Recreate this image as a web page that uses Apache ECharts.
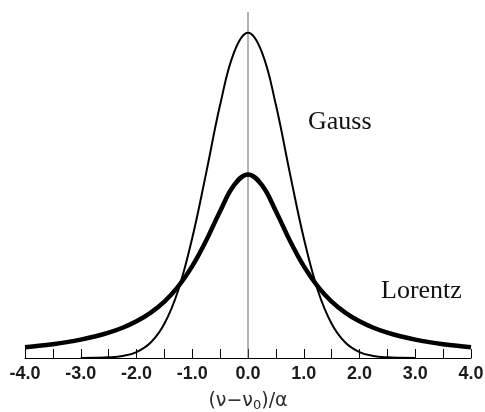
<!DOCTYPE html>
<html>
<head>
<meta charset="utf-8">
<script src="https://cdn.jsdelivr.net/npm/echarts@6/dist/echarts.min.js"></script>
<style>
html,body{margin:0;padding:0;background:#fff;}
#chart{width:485px;height:412px;}
</style>
</head>
<body>
<div id="chart"></div>
<script>
// x positions (in units of (ν−ν0)/α)
var xValues = [-4,-3.75,-3.5,-3.25,-3,-2.75,-2.5,-2.25,-2,-1.75,-1.5,-1.25,-1,-0.75,-0.5,-0.25,0,
               0.25,0.5,0.75,1,1.25,1.5,1.75,2,2.25,2.5,2.75,3,3.25,3.5,3.75,4];
// Gauss profile values (null = merged with axis)
var gaussValues = [null,null,null,null,0.0001,0.0003,0.0011,0.0036,0.0103,0.0264,0.0595,0.118,0.208,0.321,0.439,0.530,0.564,
                   0.530,0.439,0.321,0.208,0.118,0.0595,0.0264,0.0103,0.0036,0.0011,0.0003,0.0001,null,null,null,null];
// Lorentz profile values
var lorentzValues = [0.0187,0.0211,0.0240,0.0275,0.0318,0.0372,0.0439,0.0525,0.0637,0.0784,0.0979,0.1242,0.1592,0.2037,0.2546,0.2996,0.3183,
                     0.2996,0.2546,0.2037,0.1592,0.1242,0.0979,0.0784,0.0637,0.0525,0.0439,0.0372,0.0318,0.0275,0.0240,0.0211,0.0187];
var centerLine = [[0,0],[0,0.6]];
var seriesNames = ['Gauss','Lorentz'];

function pairs(xs, ys){ return xs.map(function(x,i){ return [x, ys[i]]; }); }

var chart = echarts.init(document.getElementById('chart'));
chart.setOption({
  animation:false,
  backgroundColor:'#fff',
  grid:{left:25,right:14,top:12,bottom:54,containLabel:false,outerBoundsMode:'none'},
  xAxis:{
    type:'value', min:-4, max:4, interval:1,
    axisLine:{show:true,onZero:false,lineStyle:{color:'#000',width:1.2}},
    axisTick:{show:true,inside:true,length:9,lineStyle:{color:'#000',width:1}},
    minorTick:{show:true,splitNumber:2,length:9,lineStyle:{color:'#000',width:1}},
    splitLine:{show:false},
    axisLabel:{margin:7,fontFamily:'Liberation Sans',fontWeight:'bold',fontSize:18,color:'#1a1a1a',
      formatter:function(v){return v.toFixed(1);}},
    name:'{a|(ν−ν}{s|0}{a|)/α}',
    nameLocation:'middle', nameGap:33,
    nameTextStyle:{rich:{
      a:{fontFamily:'DejaVu Sans',fontSize:19,color:'#2a2a2a'},
      s:{fontFamily:'DejaVu Sans',fontSize:13,color:'#2a2a2a',verticalAlign:'bottom',padding:[8,0,0,0]}
    }}
  },
  yAxis:{type:'value',min:0,max:0.6,show:false},
  series:[
    {type:'line',data:centerLine,symbol:'none',lineStyle:{color:'#666',width:1},silent:true,z:1},
    {name:seriesNames[0],type:'line',data:pairs(xValues,gaussValues),smooth:0.4,symbol:'none',connectNulls:false,
     lineStyle:{color:'#000',width:2},z:3},
    {name:seriesNames[1],type:'line',data:pairs(xValues,lorentzValues),smooth:0.4,symbol:'none',
     lineStyle:{color:'#000',width:4.5},z:2}
  ],
  graphic:[
    {type:'text',left:308,top:109,style:{text:seriesNames[0],font:'26px "Liberation Serif"',fill:'#111'}},
    {type:'text',left:381,top:278,style:{text:seriesNames[1],font:'26px "Liberation Serif"',fill:'#111'}}
  ]
});
</script>
</body>
</html>
